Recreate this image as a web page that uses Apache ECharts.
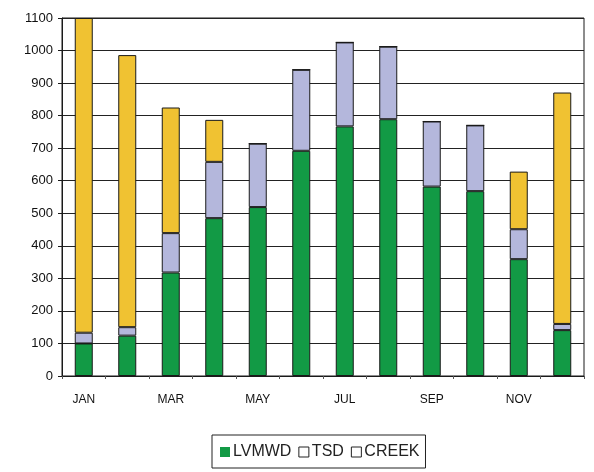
<!DOCTYPE html>
<html>
<head>
<meta charset="utf-8">
<script src="https://cdn.jsdelivr.net/npm/echarts@6/dist/echarts.min.js"></script>
<style>html,body{margin:0;padding:0;background:#fff;}#c{width:594px;height:472px;}</style>
</head>
<body>
<div id="c"></div>
<script>
const months = ['JAN','FEB','MAR','APR','MAY','JUN','JUL','AUG','SEP','OCT','NOV','DEC'];
const lvmwd = [100, 124, 318, 485, 519, 692, 767, 789, 582, 568, 359, 141];
const tsd   = [33, 26, 121, 173, 195, 249, 258, 223, 200, 202, 92, 19];
const creek = [967, 836, 386, 129, 0, 0, 0, 0, 0, 0, 177, 711];
const yTicks = {min: 0, max: 1100, interval: 100};

const font = 'Liberation Sans, Arial, sans-serif';
const chart = echarts.init(document.getElementById('c'), null, {renderer: 'canvas'});
const border = {borderColor: '#1a1a1a', borderWidth: 1};
chart.setOption({
  animation: false,
  backgroundColor: '#fff',
  grid: {left: 62, right: 10, top: 18, bottom: 96, show: true, borderColor: '#1a1a1a', borderWidth: 1, backgroundColor: 'transparent'},
  legend: {
    top: 435, left: 212,
    itemWidth: 10, itemHeight: 10, itemGap: 7,
    padding: [9, 6, 8, 8],
    borderColor: '#222', borderWidth: 1,
    textStyle: {fontFamily: font, fontSize: 16, color: '#222', padding: [0, 0, 0, -2]},
    icon: 'rect',
    data: [
      {name: 'LVMWD', itemStyle: {color: '#129a45', borderColor: '#129a45', borderWidth: 0}},
      {name: 'TSD', itemStyle: {color: '#fff', borderColor: '#222', borderWidth: 1}},
      {name: 'CREEK', itemStyle: {color: '#fff', borderColor: '#222', borderWidth: 1}}
    ]
  },
  xAxis: {
    type: 'category', data: months,
    axisLine: {lineStyle: {color: '#1a1a1a', width: 1}},
    axisTick: {show: true, interval: 0, length: 3, lineStyle: {color: '#555'}},
    axisLabel: {interval: 1, fontFamily: font, fontSize: 12, color: '#111', margin: 18}
  },
  yAxis: {
    type: 'value', min: yTicks.min, max: yTicks.max, interval: yTicks.interval,
    axisLine: {show: true, lineStyle: {color: '#1a1a1a', width: 1}},
    axisTick: {show: true, length: 4, lineStyle: {color: '#1a1a1a'}},
    axisLabel: {fontFamily: font, fontSize: 13, color: '#111', margin: 9, formatter: v => String(v)},
    splitLine: {lineStyle: {color: '#222', width: 1.2}}
  },
  series: [
    {name: 'LVMWD', type: 'bar', stack: 's', data: lvmwd, barWidth: 18, itemStyle: Object.assign({color: '#129a45'}, border)},
    {name: 'TSD', type: 'bar', stack: 's', data: tsd, barWidth: 18, itemStyle: Object.assign({color: '#b4b7dc'}, border)},
    {name: 'CREEK', type: 'bar', stack: 's', data: creek, barWidth: 18, itemStyle: Object.assign({color: '#f0c232'}, border)}
  ]
});
</script>
</body>
</html>
